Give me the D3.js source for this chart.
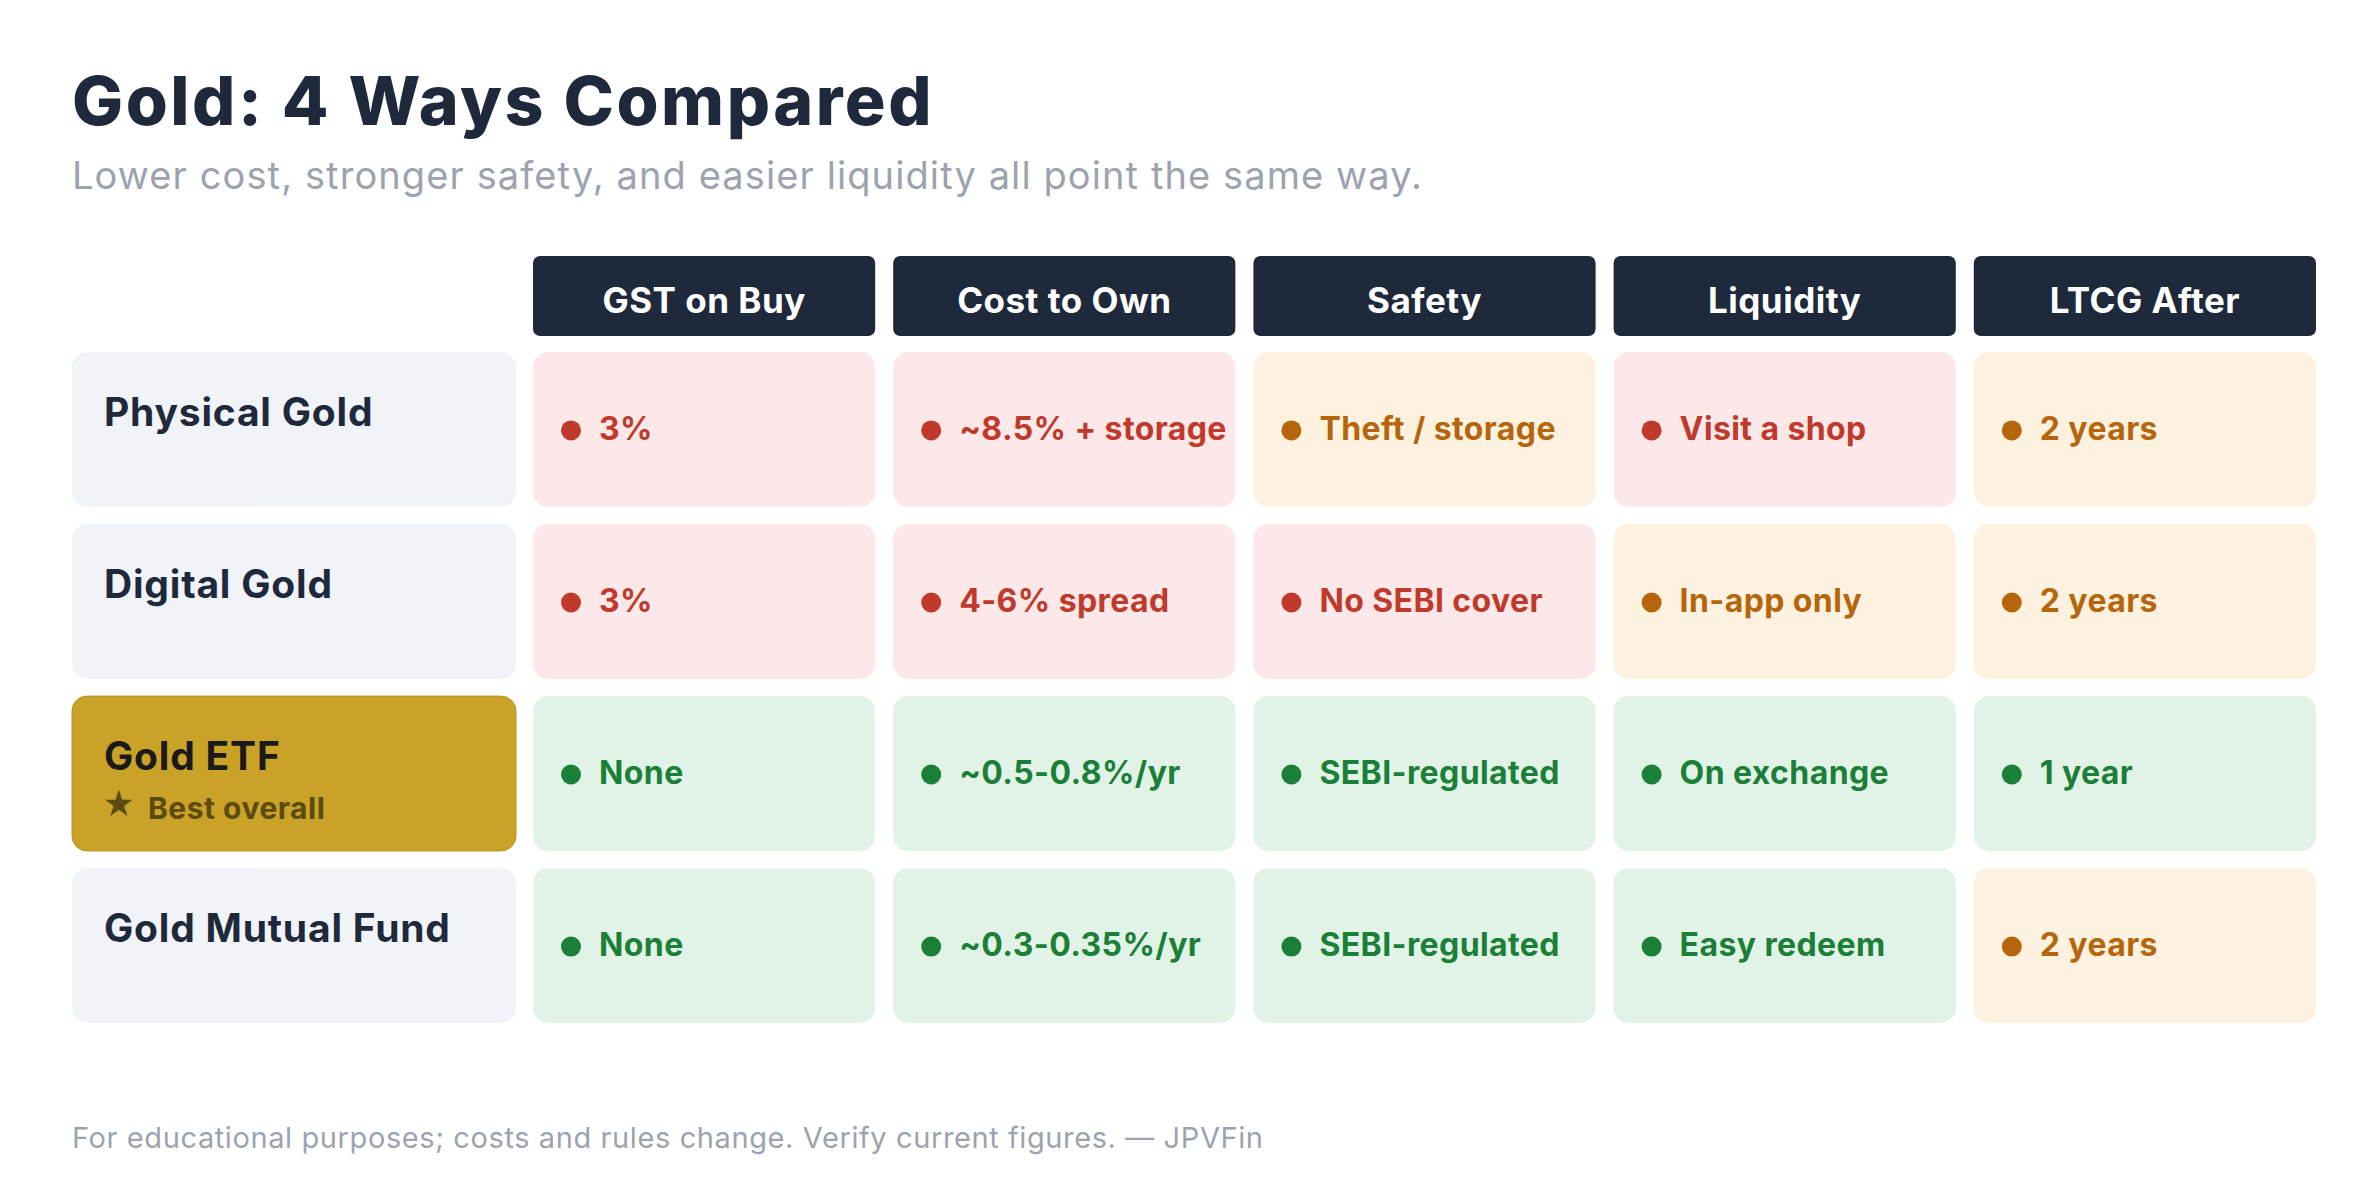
<!DOCTYPE html>
<html>
<head>
<meta charset="utf-8">
<script src="https://cdn.jsdelivr.net/npm/d3@7"></script>
<style>
  html, body { margin: 0; padding: 0; background: #fff; }
  svg { display: block; }
</style>
</head>
<body>
<div id="chart"></div>
<script>
// data
const columns = ["GST on Buy", "Cost to Own", "Safety", "Liquidity", "LTCG After"];
const methods = ["Physical Gold", "Digital Gold", "Gold ETF", "Gold Mutual Fund"];
const cellText = [
  ["3%", "~8.5% + storage", "Theft / storage", "Visit a shop", "2 years"],
  ["3%", "4-6% spread", "No SEBI cover", "In-app only", "2 years"],
  ["None", "~0.5-0.8%/yr", "SEBI-regulated", "On exchange", "1 year"],
  ["None", "~0.3-0.35%/yr", "SEBI-regulated", "Easy redeem", "2 years"]
];
// bad / mid / good
const cellStatus = [
  ["bad", "bad", "mid", "bad", "mid"],
  ["bad", "bad", "bad", "mid", "mid"],
  ["good", "good", "good", "good", "good"],
  ["good", "good", "good", "good", "mid"]
];
const highlight = "Gold ETF";

const palette = {
  bad:  { bg: "#fce8e8", fg: "#c0392b" },
  mid:  { bg: "#fdf2e0", fg: "#b7650b" },
  good: { bg: "#e1f3e6", fg: "#1a7f37" }
};

const width = 2360, height = 1200;
const font = "Inter, 'Noto Sans', sans-serif";

const svg = d3.select("#chart").append("svg")
  .attr("width", width).attr("height", height)
  .style("font-family", font);

svg.append("text").attr("x", 72).attr("y", 125)
  .attr("font-size", 68).attr("font-weight", 800).attr("fill", "#1e293b")
  .attr("letter-spacing", 2.5)
  .text("Gold: 4 Ways Compared");

svg.append("text").attr("x", 72).attr("y", 189)
  .attr("font-size", 38).attr("fill", "#9ca3af")
  .attr("letter-spacing", 1.1)
  .text("Lower cost, stronger safety, and easier liquidity all point the same way.");

const x = d3.scaleBand().domain(columns).range([533, 2316]).paddingInner(0.05);
const y = d3.scaleBand().domain(methods).range([352, 1023]).paddingInner(0.1);
const labelX = 72, labelW = 444;

// header
const head = svg.append("g").selectAll("g").data(columns).join("g")
  .attr("transform", d => `translate(${x(d)},256)`);
head.append("rect").attr("width", x.bandwidth()).attr("height", 80)
  .attr("rx", 7).attr("fill", "#1e293b");
head.append("text").attr("x", x.bandwidth() / 2).attr("y", 44)
  .attr("dy", "0.36em").attr("text-anchor", "middle")
  .attr("font-size", 35).attr("font-weight", 700).attr("fill", "#fff")
  .attr("letter-spacing", 0.5)
  .text(d => d);

// rows
const rows = svg.append("g").selectAll("g").data(methods).join("g")
  .attr("transform", d => `translate(0,${y(d)})`);

rows.append("rect").attr("x", labelX).attr("width", labelW)
  .attr("height", y.bandwidth()).attr("rx", 15)
  .attr("fill", d => d === highlight ? "#c9a227" : "#f0f3f8")
  .attr("stroke", d => d === highlight ? "#b8921c" : "none");

rows.append("text").attr("x", 104).attr("y", 60)
  .attr("dy", "0.36em")
  .attr("font-size", 39).attr("font-weight", 700)
  .attr("letter-spacing", 0.8)
  .attr("fill", d => d === highlight ? "#1a1a1a" : "#1e293b")
  .text(d => d);

const hl = rows.filter(d => d === highlight);
hl.append("text").attr("x", 102).attr("y", 108).attr("dy", "0.36em")
  .attr("font-size", 32).attr("fill", "#5c4a0f").text("★");
hl.append("text").attr("x", 148).attr("y", 112).attr("dy", "0.36em")
  .attr("font-size", 30).attr("font-weight", 700).attr("fill", "#5c4a0f")
  .attr("letter-spacing", 0.5)
  .text("Best overall");

const cells = rows.selectAll("g.cell")
  .data((d, i) => columns.map((c, j) => ({ col: c, text: cellText[i][j], s: cellStatus[i][j] })))
  .join("g").attr("class", "cell")
  .attr("transform", d => `translate(${x(d.col)},0)`);

cells.append("rect").attr("width", x.bandwidth()).attr("height", y.bandwidth())
  .attr("rx", 15).attr("fill", d => palette[d.s].bg);
cells.append("circle").attr("cx", 38).attr("cy", y.bandwidth() / 2 + 1).attr("r", 10)
  .attr("fill", d => palette[d.s].fg);
cells.append("text").attr("x", 66).attr("y", y.bandwidth() / 2 - 1)
  .attr("dy", "0.36em")
  .attr("font-size", 32).attr("font-weight", 700)
  .attr("letter-spacing", 0.4)
  .attr("fill", d => palette[d.s].fg)
  .text(d => d.text);

svg.append("text").attr("x", 72).attr("y", 1148)
  .attr("font-size", 29).attr("fill", "#9ca3af")
  .attr("letter-spacing", 0.6)
  .text("For educational purposes; costs and rules change. Verify current figures.  —  JPVFin");
</script>
</body>
</html>
